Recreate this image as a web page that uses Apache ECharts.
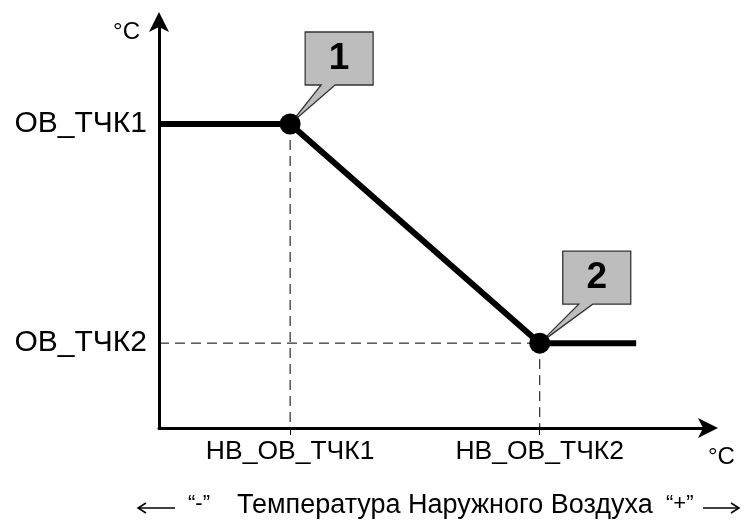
<!DOCTYPE html>
<html>
<head>
<meta charset="utf-8">
<script src="https://cdn.jsdelivr.net/npm/echarts@6/dist/echarts.min.js"></script>
<style>
  html, body { margin: 0; padding: 0; background: #fff; }
  #main { width: 751px; height: 523px; }
</style>
</head>
<body>
<div id="main"></div>
<script>
// break points of the heating curve (outside temp -> flow temp), axis units 0..100
const pointX = [23.8, 69.1]
const pointY = [74.5, 20.8]
const lineStartX = 0
const lineEndX = 86.6
const xTickLabels = ['НВ_ОВ_ТЧК1', 'НВ_ОВ_ТЧК2']
const yTickLabels = ['ОВ_ТЧК1', 'ОВ_ТЧК2']
const calloutLabels = ['1', '2']
const calloutShift = [15, 23]

const FONT = '"Liberation Sans", Arial, sans-serif'

// speech-bubble path, tip at bottom-left corner of its box
function calloutPath(dx) {
  const w = 68, h = 53, H = 92
  return 'path://M' + dx + ' 0L' + (dx + w) + ' 0L' + (dx + w) + ' ' + h +
    'L' + (dx + 30) + ' ' + h + 'L0 ' + H + 'L' + (dx + 16) + ' ' + h +
    'L' + dx + ' ' + h + 'Z'
}

const curve = [
  [lineStartX, pointY[0]],
  [pointX[0], pointY[0]],
  [pointX[1], pointY[1]],
  [lineEndX, pointY[1]]
]

const dashed = { color: '#000', width: 1, type: [10, 6] }

const chart = echarts.init(document.getElementById('main'))
chart.setOption({
  animation: false,
  grid: { left: 159, right: 41, top: 20, bottom: 95 },
  xAxis: {
    type: 'value',
    min: 0,
    max: 100,
    name: '°C',
    nameLocation: 'end',
    nameGap: -2,
    nameTextStyle: { fontFamily: FONT, fontSize: 24, color: '#000', verticalAlign: 'top', padding: [17, 0, 0, 0] },
    splitLine: { show: false },
    axisLine: { lineStyle: { color: '#000', width: 3 }, symbol: ['none', 'arrow'], symbolSize: [15, 20], symbolOffset: [0, 8] },
    axisTick: { show: true, length: 7, inside: false, lineStyle: { color: '#000', width: 1 }, customValues: pointX },
    axisLabel: {
      customValues: pointX,
      formatter: (v) => xTickLabels[pointX.indexOf(v)],
      fontFamily: FONT, fontSize: 26.5, color: '#000', margin: 10
    }
  },
  yAxis: {
    type: 'value',
    min: 0,
    max: 100,
    name: '°C',
    nameLocation: 'end',
    nameGap: 0,
    nameTextStyle: { fontFamily: FONT, fontSize: 24, color: '#000', align: 'right', verticalAlign: 'top', padding: [0, 19, 0, 0] },
    splitLine: { show: false },
    axisLine: { lineStyle: { color: '#000', width: 3 }, symbol: ['none', 'arrow'], symbolSize: [15, 20], symbolOffset: [0, 8] },
    axisTick: { show: false },
    axisLabel: {
      customValues: pointY,
      formatter: (v) => yTickLabels[pointY.indexOf(v)],
      fontFamily: FONT, fontSize: 30, color: '#000', margin: 12
    }
  },
  series: [
    {
      type: 'line', data: [[pointX[0], pointY[0]], [pointX[0], 0]],
      symbol: 'none', lineStyle: dashed, z: 1
    },
    {
      type: 'line', data: [[pointX[1], pointY[1]], [pointX[1], 0]],
      symbol: 'none', lineStyle: dashed, z: 1
    },
    {
      type: 'line', data: [[0, pointY[1]], [pointX[1], pointY[1]]],
      symbol: 'none', lineStyle: dashed, z: 1
    },
    {
      type: 'line', data: curve, symbol: 'none',
      lineStyle: { color: '#000', width: 6 }, z: 3
    },
    {
      type: 'scatter',
      data: pointX.map((x, i) => ({
        value: [x, pointY[i]],
        symbol: calloutPath(calloutShift[i]),
        symbolSize: [calloutShift[i] + 68, 92],
        symbolOffset: [(calloutShift[i] + 68) / 2, -46],
        label: {
          show: true,
          position: 'inside',
          offset: [calloutShift[i] + 34 - (calloutShift[i] + 68) / 2, -65.5 + 46],
          formatter: calloutLabels[i]
        }
      })),
      itemStyle: { color: '#bdbdbd', borderColor: '#333', borderWidth: 1.3, opacity: 1 },
      label: { fontFamily: FONT, fontSize: 37, fontWeight: 'bold', color: '#000' },
      z: 2
    },
    {
      type: 'scatter', data: pointX.map((x, i) => [x, pointY[i]]),
      symbol: 'circle', symbolSize: 21,
      itemStyle: { color: '#000', opacity: 1 }, z: 4
    }
  ],
  graphic: [
    { type: 'line', shape: { x1: 138, y1: 508, x2: 175, y2: 508 }, style: { stroke: '#000', lineWidth: 1.5 } },
    { type: 'polyline', shape: { points: [[146, 503], [138, 508], [146, 513]] }, style: { stroke: '#000', lineWidth: 1.5, fill: null } },
    { type: 'text', left: 188, top: 493, style: { text: '“-”', font: '22px ' + FONT, fill: '#000' } },
    { type: 'text', left: 237, top: 492, style: { text: 'Температура Наружного Воздуха', font: '27px ' + FONT, fill: '#000' } },
    { type: 'text', left: 666, top: 493, style: { text: '“+”', font: '22px ' + FONT, fill: '#000' } },
    { type: 'line', shape: { x1: 703, y1: 508, x2: 739, y2: 508 }, style: { stroke: '#000', lineWidth: 1.5 } },
    { type: 'polyline', shape: { points: [[731, 503], [739, 508], [731, 513]] }, style: { stroke: '#000', lineWidth: 1.5, fill: null } }
  ]
})
</script>
</body>
</html>
